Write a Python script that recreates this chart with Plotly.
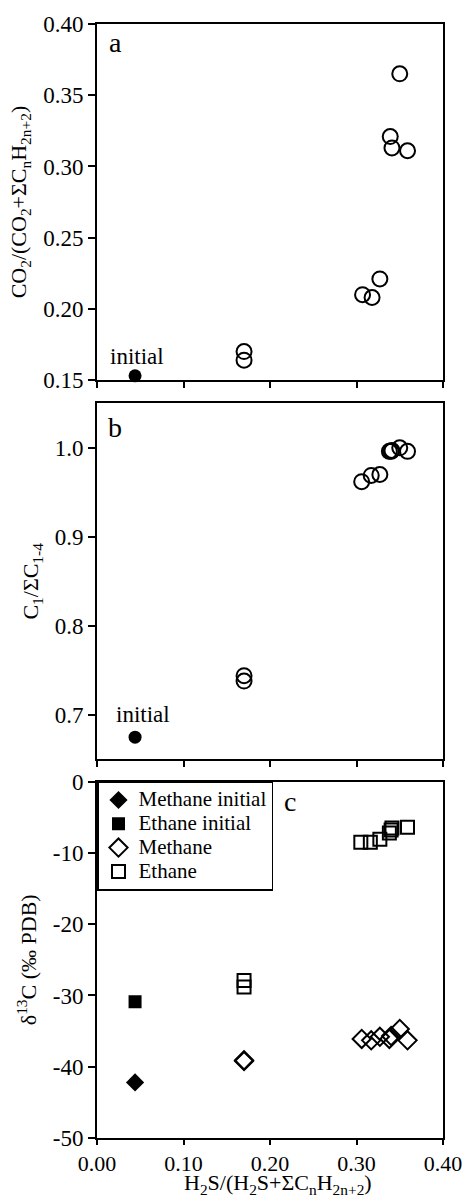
import plotly.graph_objects as go

FONT = "Liberation Serif, Times New Roman, serif"

# Panel a: CO2 ratio
a_init_x = [0.044]
a_init_y = [0.153]
a_x = [0.170, 0.170, 0.307, 0.318, 0.327, 0.339, 0.341, 0.359, 0.350]
a_y = [0.170, 0.164, 0.210, 0.208, 0.221, 0.321, 0.313, 0.311, 0.365]

# Panel b: C1/SumC1-4
b_init_x = [0.044]
b_init_y = [0.675]
b_x = [0.170, 0.170, 0.306, 0.317, 0.327, 0.338, 0.340, 0.341, 0.350, 0.359]
b_y = [0.744, 0.738, 0.962, 0.969, 0.970, 0.996, 0.996, 0.997, 1.000, 0.996]

# Panel c: delta13C
meth_init_x = [0.044]
meth_init_y = [-42.2]
eth_init_x = [0.044]
eth_init_y = [-30.9]
meth_x = [0.170, 0.170, 0.306, 0.317, 0.327, 0.338, 0.340, 0.350, 0.359]
meth_y = [-39.1, -39.2, -36.1, -36.3, -35.8, -36.1, -35.7, -34.7, -36.3]
eth_x = [0.170, 0.170, 0.305, 0.316, 0.327, 0.338, 0.340, 0.341, 0.359]
eth_y = [-27.9, -28.8, -8.5, -8.5, -8.1, -7.2, -6.8, -6.5, -6.4]

legend_names = ["Methane initial", "Ethane initial", "Methane", "Ethane"]

x_ticks = [0.0, 0.1, 0.2, 0.3, 0.4]
x_ticktext = ["0.00", "0.10", "0.20", "0.30", "0.40"]
c_ticks = [0, -10, -20, -30, -40, -50]
c_ticktext = ["0", "-10", "-20", "-30", "-40", "-50"]

W, H = 474, 1199
ml, mr, mt, mb = 97, 18, 19, 61
ph = H - mt - mb
def dom(top_px, bot_px):
    lo = (H - mb - bot_px) / ph
    hi = (H - mb - top_px) / ph
    return [max(0.0, min(1.0, lo)), max(0.0, min(1.0, hi))]

def py2paper(px):
    return (H - mb - px) / ph

def px2paper(px):
    return (px - ml) / (W - ml - mr)

dom_a = dom(19, 376.7)
dom_b = dom(400, 757.7)
dom_c = dom(780, 1138)

def lname(s):
    return '<span style="font-size:21px">' + s + '</span>'

fig = go.Figure()
open_circle = dict(symbol="circle-open", size=15, color="black", line=dict(width=2, color="black"))
filled_circle = dict(symbol="circle", size=13, color="black")

fig.add_trace(go.Scatter(x=a_x, y=a_y, mode="markers", marker=open_circle, xaxis="x", yaxis="y", showlegend=False, cliponaxis=False))
fig.add_trace(go.Scatter(x=a_init_x, y=a_init_y, mode="markers", marker=filled_circle, xaxis="x", yaxis="y", showlegend=False, cliponaxis=False))
fig.add_trace(go.Scatter(x=b_x, y=b_y, mode="markers", marker=open_circle, xaxis="x2", yaxis="y2", showlegend=False, cliponaxis=False))
fig.add_trace(go.Scatter(x=b_init_x, y=b_init_y, mode="markers", marker=filled_circle, xaxis="x2", yaxis="y2", showlegend=False, cliponaxis=False))

fig.add_trace(go.Scatter(x=meth_init_x, y=meth_init_y, mode="markers", name=lname(legend_names[0]),
                         marker=dict(symbol="diamond", size=14, color="black"), xaxis="x3", yaxis="y3"))
fig.add_trace(go.Scatter(x=eth_init_x, y=eth_init_y, mode="markers", name=lname(legend_names[1]),
                         marker=dict(symbol="square", size=13, color="black"), xaxis="x3", yaxis="y3"))
fig.add_trace(go.Scatter(x=meth_x, y=meth_y, mode="markers", name=lname(legend_names[2]),
                         marker=dict(symbol="diamond-open", size=14, color="black", line=dict(width=2, color="black")), xaxis="x3", yaxis="y3"))
fig.add_trace(go.Scatter(x=eth_x, y=eth_y, mode="markers", name=lname(legend_names[3]),
                         marker=dict(symbol="square-open", size=13, color="black", line=dict(width=2, color="black")), xaxis="x3", yaxis="y3"))

TF = 23
axis_common = dict(showline=True, mirror=True, linewidth=2, linecolor="black", ticks="outside",
                   ticklen=7, tickwidth=2, tickcolor="black", showgrid=False, zeroline=False,
                   tickfont=dict(family=FONT, size=TF, color="black"))

xcommon = dict(axis_common, range=[0, 0.40], tickvals=x_ticks, ticktext=x_ticktext, ticklen=6)
title_font = dict(family=FONT, size=22, color="black")
fig.update_layout(
    xaxis=dict(xcommon, anchor="y", domain=[0, 1], showticklabels=False),
    yaxis=dict(axis_common, domain=dom_a, range=[0.15, 0.40], dtick=0.05, tickformat=".2f",
               title=dict(text="CO<sub>2</sub>/(CO<sub>2</sub>+ΣC<sub>n</sub>H<sub>2n+2</sub>)", standoff=10,
                          font=title_font)),
    xaxis2=dict(xcommon, anchor="y2", domain=[0, 1], showticklabels=False),
    yaxis2=dict(axis_common, domain=dom_b, range=[0.65, 1.05], tickvals=[0.7, 0.8, 0.9, 1.0], tickformat=".1f",
                title=dict(text="C<sub>1</sub>/ΣC<sub>1-4</sub>", standoff=10, font=title_font)),
    xaxis3=dict(xcommon, anchor="y3", domain=[0, 1], ticklabeloverflow="allow", ticklen=5,
                tickfont=dict(family=FONT, size=22, color="black")),
    yaxis3=dict(axis_common, domain=dom_c, range=[-50, 0], tickvals=c_ticks, ticktext=c_ticktext,
                title=dict(text="δ<sup>13</sup>C (‰ PDB)", standoff=10, font=title_font)),
)

fig.update_layout(
    width=W, height=H,
    margin=dict(l=ml, r=mr, t=mt, b=mb),
    paper_bgcolor="white", plot_bgcolor="white",
    font=dict(family=FONT, size=22, color="black"),
    legend=dict(x=0, y=dom_c[1], xanchor="left", yanchor="top", bgcolor="white",
                bordercolor="black", borderwidth=1.5, font=dict(family=FONT, size=16, color="black"),
                itemwidth=30, tracegroupgap=0),
)

# x-axis title placed as an annotation so it stays inside the figure
fig.add_annotation(text="H<sub>2</sub>S/(H<sub>2</sub>S+ΣC<sub>n</sub>H<sub>2n+2</sub>)",
                   x=px2paper(284.5), y=py2paper(1199), xref="paper", yref="paper",
                   xanchor="center", yanchor="bottom", showarrow=False, borderpad=0,
                   font=dict(family=FONT, size=22, color="black"))

ann = [
    dict(text="a", x=0.021, y=0.3867, xref="x", yref="y", font_size=28),
    dict(text="b", x=0.021, y=1.023, xref="x2", yref="y2", font_size=28),
    dict(text="c", x=0.2235, y=-2.8, xref="x3", yref="y3", font_size=28),
    dict(text="initial", x=0.046, y=0.1663, xref="x", yref="y", font_size=23),
    dict(text="initial", x=0.053, y=0.700, xref="x2", yref="y2", font_size=23),
]
for a in ann:
    fs = a.pop("font_size")
    fig.add_annotation(showarrow=False, font=dict(family=FONT, size=fs, color="black"), **a)

fig.write_html("out.html", config={"displayModeBar": False},
               post_script="document.body.style.margin='0';document.body.style.overflow='hidden';")
